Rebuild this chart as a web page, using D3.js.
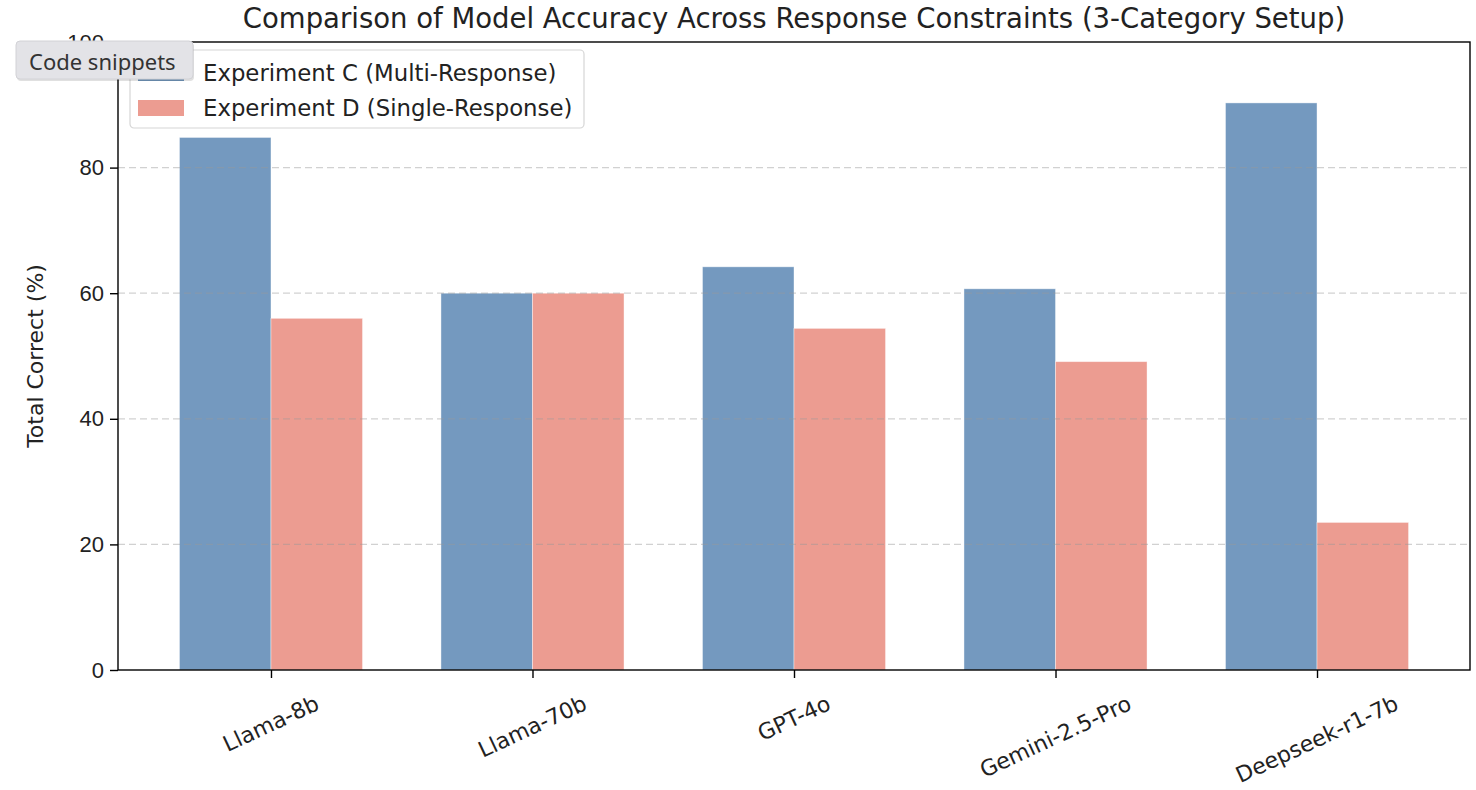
<!DOCTYPE html>
<html>
<head>
<meta charset="utf-8">
<script src="https://cdn.jsdelivr.net/npm/d3@7"></script>
<style>
  body { margin: 0; background: #fff; }
  svg { display: block; font-family: "DejaVu Sans", sans-serif; }
</style>
</head>
<body>
<div id="chart"></div>
<script>
// data
const models = ['Llama-8b', 'Llama-70b', 'GPT-4o', 'Gemini-2.5-Pro', 'Deepseek-r1-7b'];
const expC = [84.8, 60.0, 64.2, 60.7, 90.3];
const expD = [56.0, 60.0, 54.4, 49.1, 23.5];
const yTicks = [0, 20, 40, 60, 80, 100];
const seriesNames = ['Experiment C (Multi-Response)', 'Experiment D (Single-Response)'];
const colors = ['#7499bf', '#ec9c91'];

const W = 1476, H = 790;
const margin = { top: 42, right: 6, bottom: 120, left: 118 };
const width = W - margin.left - margin.right;
const height = H - margin.top - margin.bottom;
const barW = 0.35;
const fs = 22;

const svg = d3.select('#chart').append('svg')
  .attr('width', W)
  .attr('height', H);

const g = svg.append('g')
  .attr('transform', `translate(${margin.left},${margin.top})`);

// matplotlib-like x limits: bars span [-0.35, 4.35] plus 5% margins
const span = (models.length - 1) + 2 * barW;
const pad = span * 0.05;
const x = d3.scaleLinear()
  .domain([-barW - pad, models.length - 1 + barW + pad])
  .range([0, width]);
const y = d3.scaleLinear().domain([0, 100]).range([height, 0]);

// bars
const series = [expC, expD];
series.forEach((vals, s) => {
  g.append('g').selectAll('rect')
    .data(vals)
    .join('rect')
    .attr('x', (d, i) => x(i + (s === 0 ? -barW : 0)))
    .attr('y', (d) => y(d))
    .attr('width', x(barW) - x(0))
    .attr('height', (d) => y(0) - y(d))
    .attr('fill', colors[s])
    .attr('stroke', 'rgba(255,255,255,0.5)')
    .attr('stroke-width', 0.8);
});

// dashed grid on top of bars, like the reference
g.append('g').selectAll('line')
  .data(yTicks.filter((t) => t > 0 && t < 100))
  .join('line')
  .attr('x1', 0)
  .attr('x2', width)
  .attr('y1', (d) => y(d))
  .attr('y2', (d) => y(d))
  .attr('stroke', '#999')
  .attr('stroke-opacity', 0.45)
  .attr('stroke-width', 1.2)
  .attr('stroke-dasharray', '7,4');

// axes
const yAxis = g.append('g')
  .call(d3.axisLeft(y).tickValues(yTicks).tickSize(8).tickPadding(6));
yAxis.select('.domain').remove();
yAxis.selectAll('text').attr('font-size', fs).attr('fill', '#222');
yAxis.selectAll('line').attr('stroke', '#000').attr('stroke-width', 1.4);

const xAxis = g.append('g')
  .attr('transform', `translate(0,${height})`)
  .call(d3.axisBottom(x).tickValues(d3.range(models.length)).tickSize(8).tickFormat(''));
xAxis.select('.domain').remove();
xAxis.selectAll('line').attr('stroke', '#000').attr('stroke-width', 1.4);

// rotated category labels, rotated bbox top aligned under the ticks
const sin = Math.sin(25 * Math.PI / 180), cos = Math.cos(25 * Math.PI / 180);
const labels = g.append('g').selectAll('text')
  .data(models)
  .join('text')
  .attr('font-size', fs)
  .attr('fill', '#222')
  .attr('text-anchor', 'middle')
  .attr('dominant-baseline', 'central')
  .text((d) => d);
labels.each(function (d, i) {
  const w = this.getComputedTextLength();
  const hh = w * sin + fs * cos;
  const cx = x(i), cy = height + 22 + hh / 2;
  d3.select(this).attr('x', cx).attr('y', cy)
    .attr('transform', `rotate(-25,${cx},${cy})`);
});

// frame
g.append('rect')
  .attr('width', width)
  .attr('height', height)
  .attr('fill', 'none')
  .attr('stroke', '#000')
  .attr('stroke-width', 1.4);

// title and y label
svg.append('text')
  .attr('x', margin.left + width / 2)
  .attr('y', 28)
  .attr('text-anchor', 'middle')
  .attr('font-size', 27.5)
  .attr('fill', '#222')
  .text('Comparison of Model Accuracy Across Response Constraints (3-Category Setup)');

svg.append('text')
  .attr('transform', `translate(43,${margin.top + height / 2}) rotate(-90)`)
  .attr('text-anchor', 'middle')
  .attr('font-size', fs)
  .attr('fill', '#222')
  .text('Total Correct (%)');

// legend
const legend = svg.append('g').attr('transform', 'translate(130,50)');
legend.append('rect')
  .attr('width', 454)
  .attr('height', 78)
  .attr('rx', 4)
  .attr('fill', 'rgba(255,255,255,0.85)')
  .attr('stroke', '#d6d6d6')
  .attr('stroke-width', 1.2);
seriesNames.forEach((name, i) => {
  const row = legend.append('g').attr('transform', `translate(0,${22 + i * 35})`);
  row.append('rect')
    .attr('x', 8)
    .attr('y', -7)
    .attr('width', 46)
    .attr('height', 16)
    .attr('fill', colors[i]);
  row.append('text')
    .attr('x', 73)
    .attr('y', 1)
    .attr('dominant-baseline', 'central')
    .attr('font-size', 22.8)
    .attr('fill', '#222')
    .text(name);
});

// browser tooltip overlay seen in the screenshot
const tip = svg.append('g').attr('transform', 'translate(16,41)');
tip.append('rect')
  .attr('x', 1).attr('y', 2)
  .attr('width', 177).attr('height', 38)
  .attr('rx', 4)
  .attr('fill', 'rgba(0,0,0,0.12)');
tip.append('rect')
  .attr('width', 177)
  .attr('height', 38)
  .attr('rx', 4)
  .attr('fill', '#e3e3e7')
  .attr('stroke', '#d2d2d6');
tip.append('text')
  .attr('x', 13)
  .attr('y', 20)
  .attr('dominant-baseline', 'central')
  .attr('font-family', '"Noto Sans", sans-serif')
  .attr('font-size', 22)
  .attr('fill', '#333')
  .text('Code snippets');
</script>
</body>
</html>
